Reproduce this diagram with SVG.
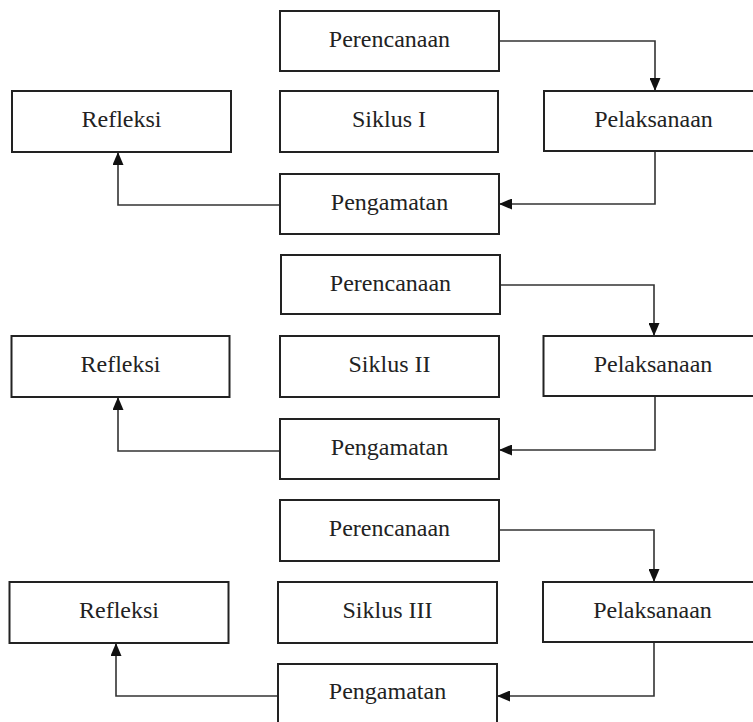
<svg xmlns="http://www.w3.org/2000/svg" width="753" height="722" viewBox="0 0 753 722">
<style>
.box{fill:#fff;stroke:#222;stroke-width:2}
.lbl{font-family:'Liberation Serif','DejaVu Serif',serif;font-size:24px;fill:#222;text-anchor:middle}
.con{fill:none;stroke:#333;stroke-width:1.6;marker-end:url(#arr)}
</style>
<defs>
<marker id="arr" viewBox="0 0 13 11" refX="13" refY="5.5" markerWidth="13" markerHeight="11" markerUnits="userSpaceOnUse" orient="auto">
<path d="M0,0 L13,5.5 L0,11 z" fill="#111"/>
</marker>
</defs>
<rect width="753" height="722" fill="#fff"/>
<g id="connectors">
<path class="con" d="M499 41 H655 V91"/>
<path class="con" d="M655 151 V204 H499"/>
<path class="con" d="M280 205 H118 V152"/>
<path class="con" d="M500 285 H654 V336"/>
<path class="con" d="M655 396 V450 H499"/>
<path class="con" d="M280 451 H118 V397"/>
<path class="con" d="M499 530 H654 V582"/>
<path class="con" d="M654 642 V696 H497"/>
<path class="con" d="M278 696 H116 V643"/>
</g>
<g id="perencanaan1"><rect class="box" x="280" y="11" width="219" height="60"/><text class="lbl" x="389.5" y="47">Perencanaan</text></g>
<g id="siklus1"><rect class="box" x="280" y="91" width="218" height="61"/><text class="lbl" x="389" y="127">Siklus I</text></g>
<g id="refleksi1"><rect class="box" x="12" y="91" width="219" height="61"/><text class="lbl" x="121.5" y="127">Refleksi</text></g>
<g id="pelaksanaan1"><rect class="box" x="544" y="91" width="219" height="60"/><text class="lbl" x="653.5" y="127">Pelaksanaan</text></g>
<g id="pengamatan1"><rect class="box" x="280" y="174" width="219" height="60"/><text class="lbl" x="389.5" y="210">Pengamatan</text></g>

<g id="perencanaan2"><rect class="box" x="281" y="255" width="219" height="59"/><text class="lbl" x="390.5" y="291">Perencanaan</text></g>
<g id="siklus2"><rect class="box" x="280" y="336" width="219" height="61"/><text class="lbl" x="389.5" y="372">Siklus II</text></g>
<g id="refleksi2"><rect class="box" x="11.5" y="336" width="218" height="61"/><text class="lbl" x="120.5" y="372">Refleksi</text></g>
<g id="pelaksanaan2"><rect class="box" x="543.5" y="336" width="219" height="60"/><text class="lbl" x="653" y="372">Pelaksanaan</text></g>
<g id="pengamatan2"><rect class="box" x="280" y="419" width="219" height="60"/><text class="lbl" x="389.5" y="455">Pengamatan</text></g>

<g id="perencanaan3"><rect class="box" x="280" y="500" width="219" height="61"/><text class="lbl" x="389.5" y="536">Perencanaan</text></g>
<g id="siklus3"><rect class="box" x="278" y="582" width="219" height="61"/><text class="lbl" x="387.5" y="618">Siklus III</text></g>
<g id="refleksi3"><rect class="box" x="9.5" y="582" width="219" height="61"/><text class="lbl" x="119" y="618">Refleksi</text></g>
<g id="pelaksanaan3"><rect class="box" x="543" y="582" width="219" height="60"/><text class="lbl" x="652.5" y="618">Pelaksanaan</text></g>
<g id="pengamatan3"><rect class="box" x="278" y="664" width="219" height="60"/><text class="lbl" x="387.5" y="699">Pengamatan</text></g>
</svg>
